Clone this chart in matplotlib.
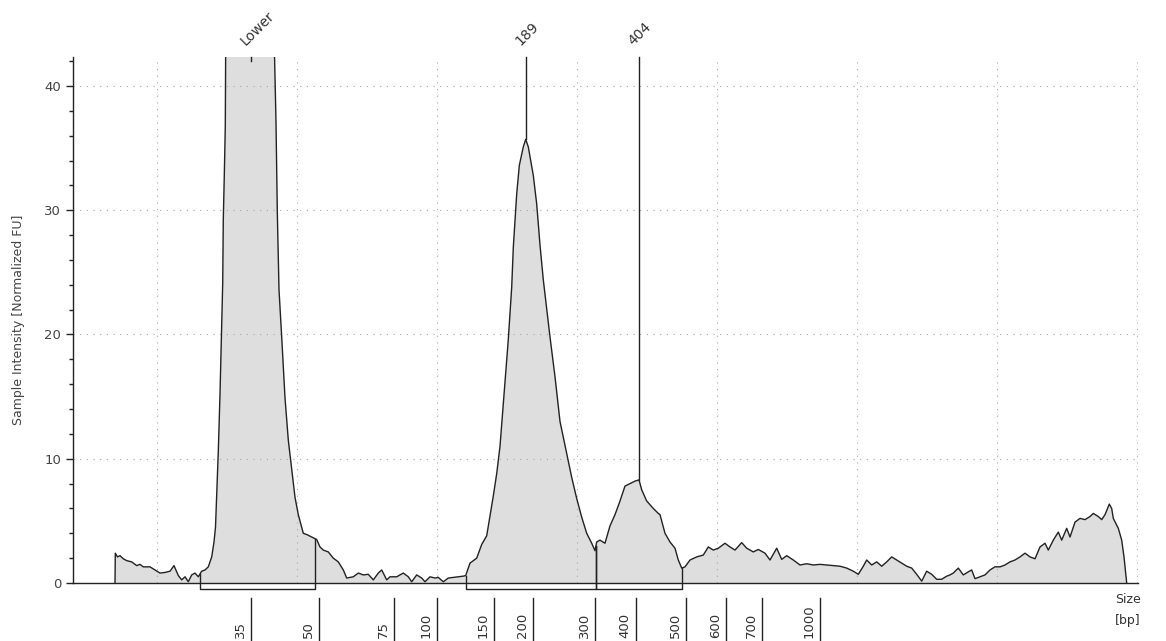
import numpy as np
import matplotlib.pyplot as plt
import matplotlib.transforms as mtransforms
from matplotlib.ticker import MultipleLocator

# electropherogram trace: migration position (scan units) and intensity [FU]
pos = [115, 115.3, 117.5, 120, 123.3, 126.7, 131.7, 136.7, 140, 143.3, 150, 155, 160, 165, 170,
       174, 178.3, 181.7, 185, 188.3, 191.7, 195, 198.3, 201.7, 205, 208.3, 211.7, 214, 215.5,
       216.7, 218.3, 220, 221.7, 222.7, 223.3, 224.3, 225.3, 226, 250, 273, 276, 277.3, 279,
       281.7, 285, 288.3, 291.7, 295, 298.3, 303.3, 306.7, 311.7, 314.3, 316.7, 320, 323.3,
       328.3, 333.3, 338.3, 343.3, 346.7, 353.3, 358.3, 363.3, 368.3, 373.3, 378.3, 381.7,
       386.7, 390, 396.7, 403.3, 408.3, 411.7, 416.7, 421.7, 425, 430, 435, 438.3, 443.3,
       448.3, 453.3, 458.3, 463.3, 465.7, 470, 476.7, 481.7, 486.7, 493.3, 496.7, 500, 505,
       508.3, 511.7, 513.3, 516.7, 519.3, 523.3, 525.7, 528.3, 533.3, 536.7, 540, 543.3,
       546.7, 550, 555, 560, 566.7, 571.7, 576.7, 581.7, 586.7, 591.7, 595, 596.7, 600, 605,
       610, 615, 620, 625, 630, 635, 639, 641.7, 646.7, 653.3, 658.3, 660, 665, 670, 675,
       678.3, 681.7, 685, 690, 696.7, 703.3, 708.3, 713.3, 718.3, 725, 730, 735, 741.7,
       746.7, 753.3, 758.3, 765, 770, 776.7, 781.7, 786.7, 793.3, 800, 806.7, 813.3, 820,
       826.7, 833.3, 840, 846.7, 853.3, 858.3, 863.3, 866.7, 871.7, 876.7, 881.7, 886.7,
       891.7, 896.7, 901.7, 906.7, 911.7, 916.7, 921.7, 926.7, 931.7, 936.7, 941.7, 946.7,
       950, 953.3, 958.3, 963.3, 968.3, 971.7, 975, 980, 985, 990, 995, 1000, 1005, 1010,
       1015, 1020, 1025, 1030, 1035, 1040, 1045, 1048.3, 1053.3, 1058.3, 1061.7, 1066.7, 1070,
       1075, 1080, 1085, 1090, 1093.3, 1098.3, 1101.7, 1105, 1109.3, 1111.7, 1113.3, 1118.3,
       1121.7, 1124, 1126.7]
fu = [0, 2.4, 2.1, 2.2, 1.95, 1.8, 1.7, 1.4, 1.5, 1.3, 1.3, 1.05, 0.8, 0.85, 0.95,
      1.4, 0.6, 0.25, 0.5, 0.1, 0.65, 0.8, 0.5, 0.95, 1.05, 1.3, 2.1, 3.3, 4.5,
      7.2, 10.6, 15.2, 20.7, 24.1, 29.3, 32.8, 36.8, 48, 60, 48, 37.1, 29.9, 23.6,
      19.8, 14.9, 11.5, 9.2, 6.9, 5.5, 4.0, 3.9, 3.7, 3.6, 3.5, 2.9, 2.65,
      2.5, 2.0, 1.7, 1.05, 0.4, 0.5, 0.8, 0.65, 0.7, 0.25, 0.8, 1.05,
      0.25, 0.5, 0.5, 0.8, 0.5, 0.1, 0.65, 0.4, 0.1, 0.5, 0.4, 0.45, 0.1,
      0.4, 0.45, 0.5, 0.55, 0.6, 1.6, 2.0, 3.1, 3.8, 7.0, 8.8, 11.0, 16.2,
      19.6, 23.8, 27.0, 31.3, 33.6, 35.1, 35.7, 35.1, 32.8, 30.5, 27.2, 24.4,
      22.1, 19.8, 16.6, 13.0, 10.4, 8.5, 6.8, 5.3, 4.0, 3.2, 2.6, 3.3, 3.45, 3.2,
      4.6, 5.5, 6.6, 7.8, 8.0, 8.2, 8.3, 7.5, 6.6, 6.0, 5.6, 5.5, 4.0, 3.3, 2.8,
      1.85, 1.2, 1.3, 1.85, 2.1, 2.25, 2.9, 2.65, 2.8, 3.2, 2.9, 2.65, 3.25,
      2.8, 2.5, 2.7, 2.4, 1.85, 2.8, 1.9, 2.2, 1.85, 1.45, 1.55, 1.45, 1.5,
      1.45, 1.4, 1.35, 1.2, 0.95, 0.7, 1.35, 1.85, 1.45, 1.7, 1.35, 1.7,
      2.1, 1.85, 1.6, 1.35, 1.2, 0.7, 0.15, 0.95, 0.7, 0.3, 0.3, 0.55,
      0.65, 0.8, 1.2, 0.65, 0.9, 1.05, 0.35, 0.5, 0.65, 1.05, 1.3, 1.3, 1.45, 1.7,
      1.85, 2.1, 2.4, 2.1, 1.95, 2.9, 3.2, 2.65, 3.45, 4.1, 3.45, 4.4, 3.7,
      4.9, 5.2, 5.1, 5.35, 5.6, 5.35, 5.1, 5.5, 6.35, 6.0, 5.2, 4.4,
      3.45, 2.1, 0]

# ladder sizes [bp] and where they fall on the migration axis
ladder_bp = ['35', '50', '75', '100', '150', '200', '300', '400', '500', '600', '700', '1000']
ladder_pos = [251, 319, 394, 437, 494, 533, 595, 636, 686, 726, 762, 820]

# called peaks
peak_names = ['Lower', '189', '404']
peak_pos = [251, 525.7, 639]

# integration regions
region_start = [200, 465.7, 596]
region_end = [315, 596, 682]

ymax = 42.33
ink = '#222222'

fig = plt.figure(figsize=(11.66, 6.41), dpi=100)
ax = fig.add_axes([73 / 1166, 1 - 583 / 641, (1138 - 73) / 1166, (583 - 57) / 641])
ax.set_xlim(73, 1138)
ax.set_ylim(0, ymax)

ax.fill_between(pos, fu, 0, color='#dedede', lw=0, zorder=1)
ax.plot(pos, fu, color=ink, lw=1.0, zorder=3)

# grid
ax.set_xticks(np.arange(157, 1140, 140))
ax.set_yticks([0, 10, 20, 30, 40])
ax.yaxis.set_minor_locator(MultipleLocator(2))
ax.tick_params(axis='x', length=0, labelbottom=False)
ax.tick_params(axis='y', which='major', length=5, width=1, colors=ink, labelcolor='#444444', labelsize=9.5)
ax.tick_params(axis='y', which='minor', length=3, width=1, colors=ink)
ax.set_axisbelow(False)
ax.grid(True, ls=(0, (1, 5)), color='#a8a8a8', lw=0.8)

for s in ['top', 'right']:
    ax.spines[s].set_visible(False)
for s in ['left', 'bottom']:
    ax.spines[s].set_color(ink)
    ax.spines[s].set_linewidth(1.0)
    ax.spines[s].set_zorder(4)

ax.set_ylabel('Sample Intensity [Normalized FU]', fontsize=9, color='#444444')
ax.yaxis.set_label_coords((25 - 73) / 1065, 0.5)

# peak markers
for name, p in zip(peak_names, peak_pos):
    if name == 'Lower':
        y0 = ymax - 0.3
    else:
        y0 = np.interp(p, pos, fu)
    ax.plot([p, p], [y0, ymax], color=ink, lw=1.0, clip_on=False, zorder=3)
    ax.annotate(name, xy=(p, ymax), xytext=(-4, 8), textcoords='offset points',
                rotation=45, rotation_mode='anchor', ha='left', va='baseline',
                fontsize=10, color='#333333', annotation_clip=False)

# region brackets under the baseline
for s, e in zip(region_start, region_end):
    ax.plot([s, s, e, e], [np.interp(s, pos, fu), -0.5, -0.5, np.interp(e, pos, fu)],
            color=ink, lw=1.0, clip_on=False, zorder=3)

# ladder scale
trans = mtransforms.blended_transform_factory(ax.transData, fig.transFigure)
for lab, p in zip(ladder_bp, ladder_pos):
    ax.plot([p, p], [1 - 598 / 641, 0], color=ink, lw=1.0, transform=trans, clip_on=False)
    ax.annotate(lab, xy=(p, 0.005), xycoords=trans, xytext=(-3, 0), textcoords='offset points',
                rotation=90, ha='right', va='bottom', fontsize=9.5, color='#333333',
                annotation_clip=False)

fig.text(1128 / 1166, 1 - 610 / 641, 'Size\n[bp]', ha='center', va='center',
         fontsize=9, color='#333333', linespacing=1.8)

fig.savefig('out.png', dpi=100, facecolor='white')
